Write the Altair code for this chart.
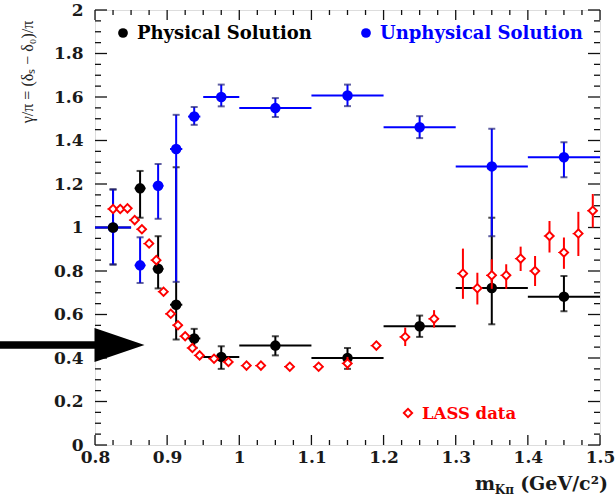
import altair as alt
import pandas as pd

# ---- Physical solution (black) : bin centre, value, error band, bin edges ----
phys_x = [0.825, 0.8625, 0.8875, 0.9125, 0.9375, 0.975, 1.05, 1.15, 1.25, 1.35, 1.45]
phys_y = [1.00, 1.18, 0.81, 0.645, 0.49, 0.405, 0.457, 0.40, 0.546, 0.722, 0.682]
phys_ylo = [0.83, 1.045, 0.72, 0.485, 0.447, 0.35, 0.412, 0.35, 0.497, 0.555, 0.615]
phys_yhi = [1.175, 1.26, 0.96, 1.277, 0.534, 0.454, 0.50, 0.446, 0.595, 1.045, 0.777]

# ---- Unphysical solution (blue) ----
unph_x = [0.825, 0.8625, 0.8875, 0.9125, 0.9375, 0.975, 1.05, 1.15, 1.25, 1.35, 1.45]
unph_y = [1.00, 0.826, 1.192, 1.361, 1.51, 1.60, 1.549, 1.607, 1.461, 1.281, 1.323]
unph_ylo = [0.83, 0.745, 1.04, 0.75, 1.472, 1.557, 1.508, 1.558, 1.411, 0.96, 1.231]
unph_yhi = [1.175, 0.955, 1.292, 1.518, 1.554, 1.657, 1.595, 1.657, 1.512, 1.454, 1.392]

# common mass bins of the two solutions
bin_lo = [0.80, 0.855, 0.88, 0.904, 0.929, 0.95, 1.0, 1.1, 1.2, 1.3, 1.4]
bin_hi = [0.85, 0.870, 0.895, 0.921, 0.946, 1.0, 1.1, 1.2, 1.3, 1.4, 1.5]

# ---- LASS measurement (red open diamonds) ----
lass_x = [0.825, 0.835, 0.845, 0.855, 0.865, 0.875, 0.885, 0.895, 0.905, 0.915,
          0.925, 0.935, 0.945, 0.965, 0.985, 1.01, 1.03, 1.07, 1.11, 1.15,
          1.19, 1.23, 1.27, 1.31, 1.33, 1.35, 1.37, 1.39, 1.41, 1.43,
          1.45, 1.47, 1.49]
lass_y = [1.085, 1.085, 1.088, 1.034, 0.992, 0.926, 0.850, 0.705, 0.603, 0.551,
          0.500, 0.446, 0.412, 0.397, 0.382, 0.365, 0.365, 0.360, 0.360, 0.375,
          0.457, 0.497, 0.580, 0.788, 0.721, 0.780, 0.780, 0.857, 0.800, 0.961,
          0.885, 0.972, 1.077]
lass_ylo = [1.073, 1.073, 1.076, 1.022, 0.980, 0.912, 0.834, 0.690, 0.588, 0.537,
            0.486, 0.432, 0.398, 0.383, 0.368, 0.350, 0.350, 0.345, 0.345, 0.345,
            0.437, 0.455, 0.540, 0.672, 0.646, 0.718, 0.718, 0.800, 0.731, 0.885,
            0.810, 0.869, 1.000]
lass_yhi = [1.097, 1.097, 1.100, 1.046, 1.004, 0.940, 0.866, 0.720, 0.618, 0.565,
            0.514, 0.460, 0.426, 0.411, 0.396, 0.380, 0.380, 0.375, 0.375, 0.405,
            0.477, 0.540, 0.620, 0.903, 0.792, 0.854, 0.831, 0.912, 0.869, 1.030,
            0.954, 1.072, 1.154]
lass_halfwidth = 0.008

# ---- axis ticks ----
x_major = [0.8, 0.9, 1.0, 1.1, 1.2, 1.3, 1.4, 1.5]
x_minor = [round(0.8 + 0.025 * i, 4) for i in range(29) if i % 4]
y_major = [0.0, 0.2, 0.4, 0.6, 0.8, 1.0, 1.2, 1.4, 1.6, 1.8, 2.0]
y_minor = [round(0.05 * i, 4) for i in range(41) if i % 4]

# ---- arrow annotation (data units) ----
arrow_y = [0.46]
arrow_tail = [0.66]
arrow_neck = [0.80]
arrow_head_centre = [0.834]

legend_labels = ["Physical Solution", "Unphysical Solution", "LASS data"]

W, H = 505, 435
BLACK, BLUE, RED = "#000000", "#0000ff", "#ff0000"
SERIF_B = "DejaVu Serif"

xs = alt.Scale(domain=[0.8, 1.5], nice=False, zero=False)
ys = alt.Scale(domain=[0, 2], nice=False, zero=False)

# axes carry labels only; the frame ticks are drawn separately pointing inward
axis_x = alt.Axis(values=x_major, format=".1~f", labelFont=SERIF_B, labelFontWeight="bold",
                  labelFontSize=17, labelColor="#1a1a1a", ticks=False, domain=False, grid=False,
                  labelPadding=4, labelFlush=False, title=None)
axis_y = alt.Axis(values=y_major, format=".1~f", labelFont=SERIF_B, labelFontWeight="bold",
                  labelFontSize=17, labelColor="#1a1a1a", ticks=False, domain=False, grid=False,
                  labelPadding=12, title=None)

phys = pd.DataFrame(dict(x=phys_x, y=phys_y, ylo=phys_ylo, yhi=phys_yhi, xlo=bin_lo, xhi=bin_hi))
unph = pd.DataFrame(dict(x=unph_x, y=unph_y, ylo=unph_ylo, yhi=unph_yhi, xlo=bin_lo, xhi=bin_hi))
lass = pd.DataFrame(dict(x=lass_x, y=lass_y, ylo=lass_ylo, yhi=lass_yhi))
lass["xlo"] = lass["x"] - lass_halfwidth
lass["xhi"] = lass["x"] + lass_halfwidth


def X(f):
    return alt.X(f, type="quantitative", scale=xs, axis=axis_x)


def Y(f):
    return alt.Y(f, type="quantitative", scale=ys, axis=axis_y)


# inward ticks on all four sides
ymaj = pd.DataFrame({"v": y_major})
ymin = pd.DataFrame({"v": y_minor})
xmaj = pd.DataFrame({"v": x_major})
xmin = pd.DataFrame({"v": x_minor})
tick_style = dict(color="#111", strokeWidth=1.3)
ticks = [
    alt.Chart(ymaj).mark_rule(**tick_style).encode(y=Y("v"), x=alt.value(0), x2=alt.value(12)),
    alt.Chart(ymin).mark_rule(**tick_style).encode(y=Y("v"), x=alt.value(0), x2=alt.value(6)),
    alt.Chart(ymaj).mark_rule(**tick_style).encode(y=Y("v"), x=alt.value(W), x2=alt.value(W - 12)),
    alt.Chart(ymin).mark_rule(**tick_style).encode(y=Y("v"), x=alt.value(W), x2=alt.value(W - 6)),
    alt.Chart(xmaj).mark_rule(**tick_style).encode(x=X("v"), y=alt.value(H), y2=alt.value(H - 10)),
    alt.Chart(xmin).mark_rule(**tick_style).encode(x=X("v"), y=alt.value(H), y2=alt.value(H - 5)),
    alt.Chart(xmaj).mark_rule(**tick_style).encode(x=X("v"), y=alt.value(0), y2=alt.value(10)),
    alt.Chart(xmin).mark_rule(**tick_style).encode(x=X("v"), y=alt.value(0), y2=alt.value(5)),
]


def error_layers(df, color, cap_color):
    vert = alt.Chart(df).mark_rule(color=color, strokeWidth=2).encode(x=X("x"), y=Y("ylo"), y2=alt.Y2("yhi"))
    horiz = alt.Chart(df).mark_rule(color=color, strokeWidth=2).encode(y=Y("y"), x=X("xlo"), x2=alt.X2("xhi"))
    cap_lo = alt.Chart(df).mark_tick(orient="horizontal", color=cap_color, size=7, thickness=2).encode(x=X("x"), y=Y("ylo"))
    cap_hi = alt.Chart(df).mark_tick(orient="horizontal", color=cap_color, size=7, thickness=2).encode(x=X("x"), y=Y("yhi"))
    return [vert, horiz, cap_lo, cap_hi]


phys_err = error_layers(phys, BLACK, BLACK)
unph_err = error_layers(unph, BLUE, "#1c1c7a")

unph_pts = alt.Chart(unph).mark_point(shape="circle", filled=True, color=BLUE, size=110, opacity=1).encode(x=X("x"), y=Y("y"))
phys_pts = alt.Chart(phys).mark_point(shape="circle", filled=True, color=BLACK, size=110, opacity=1).encode(x=X("x"), y=Y("y"))

lass_v = alt.Chart(lass).mark_rule(color=RED, strokeWidth=2).encode(x=X("x"), y=Y("ylo"), y2=alt.Y2("yhi"))
lass_h = alt.Chart(lass).mark_rule(color=RED, strokeWidth=1.2, strokeDash=[1.5, 1.5]).encode(
    y=Y("y"), x=X("xlo"), x2=alt.X2("xhi"))
lass_pts = alt.Chart(lass).mark_point(shape="diamond", filled=False, fill="white", fillOpacity=1,
                                      color=RED, strokeWidth=1.9, size=70, opacity=1).encode(x=X("x"), y=Y("y"))

# arrow pointing at the plateau
arrow_df = pd.DataFrame(dict(y=arrow_y, x0=arrow_tail, x1=arrow_neck, xh=arrow_head_centre))
arrow_shaft = alt.Chart(arrow_df).mark_rule(color=BLACK, strokeWidth=7.5, clip=False).encode(
    x=X("x0"), x2=alt.X2("x1"), y=Y("y"))
arrow_head = alt.Chart(arrow_df).mark_point(
    shape="M -1 -0.68 L 1 0 L -1 0.68 Z", filled=True, color=BLACK, size=2500, opacity=1, clip=False
).encode(x=X("xh"), y=Y("y"))

# legend entries
leg = []
for lbl, col, (mx, my), shape, fs in [
    (legend_labels[0], BLACK, (28, 23), "circle", 18),
    (legend_labels[1], BLUE, (271, 23), "circle", 18),
    (legend_labels[2], RED, (313, 403), "diamond", 16.5),
]:
    d = pd.DataFrame({"t": [lbl]})
    if shape == "circle":
        sym = alt.Chart(d).mark_point(shape="circle", filled=True, color=col, size=95, opacity=1)
    else:
        sym = alt.Chart(d).mark_point(shape="diamond", filled=False, color=col, strokeWidth=1.9, size=70, opacity=1)
    leg.append(sym.encode(x=alt.value(mx), y=alt.value(my)))
    leg.append(alt.Chart(d).mark_text(font=SERIF_B, fontWeight="bold", fontSize=fs, color=col,
                                      align="left", baseline="middle").encode(
        text="t:N", x=alt.value(mx + 14), y=alt.value(my + 1)))

# axis titles
title_df = pd.DataFrame({"t": ["γ/π = (δₛ − δ₀)/π"]})
y_title = alt.Chart(title_df).mark_text(font="Liberation Serif", fontSize=16, color="#222", angle=270,
                                        align="center", baseline="middle").encode(
    text="t:N", x=alt.value(-67), y=alt.value(62))

xt_main = alt.Chart(pd.DataFrame({"t": ["(GeV/c²)"]})).mark_text(
    font=SERIF_B, fontWeight="bold", fontSize=19, color="#1a1a1a", align="right", baseline="middle"
).encode(text="t:N", x=alt.value(513), y=alt.value(474))
xt_sub = alt.Chart(pd.DataFrame({"t": ["Kπ"]})).mark_text(
    font=SERIF_B, fontWeight="bold", fontSize=12, color="#1a1a1a", align="right", baseline="middle"
).encode(text="t:N", x=alt.value(419), y=alt.value(480))
xt_m = alt.Chart(pd.DataFrame({"t": ["m"]})).mark_text(
    font=SERIF_B, fontWeight="bold", fontSize=19, color="#1a1a1a", align="right", baseline="middle"
).encode(text="t:N", x=alt.value(400), y=alt.value(474))

chart = alt.layer(
    *ticks,
    *phys_err, *unph_err, unph_pts, phys_pts,
    lass_v, lass_h, lass_pts,
    arrow_shaft, arrow_head,
    *leg, y_title, xt_m, xt_sub, xt_main,
).properties(
    width=W, height=H,
    autosize=alt.AutoSizeParams(type="none"),
    padding={"left": 95, "top": 10, "right": 15, "bottom": 57},
).configure_view(stroke="#111", strokeWidth=1.6).configure(background="white")

chart.save("out.html", embed_options={"renderer": "svg", "actions": False})
